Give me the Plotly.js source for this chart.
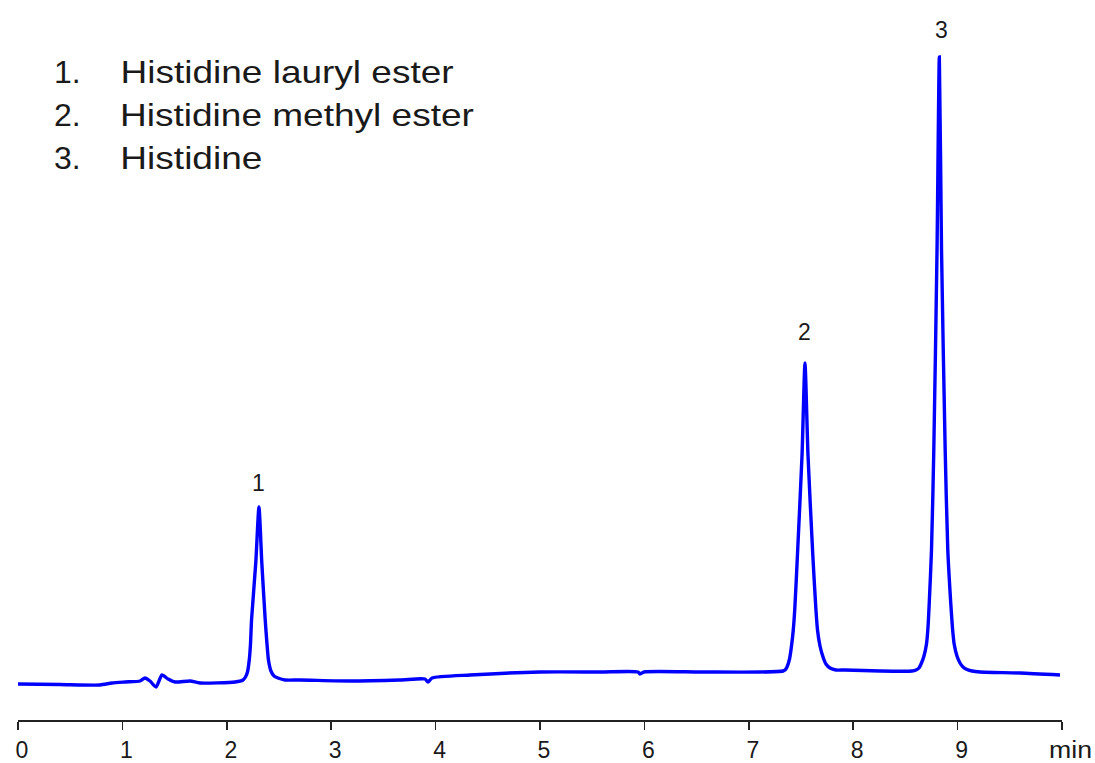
<!DOCTYPE html>
<html>
<head>
<meta charset="utf-8">
<script src="https://cdn.plot.ly/plotly-3.0.1.min.js"></script>
<style>html,body{margin:0;padding:0;background:#fff;}#chart{width:1095px;height:763px;}</style>
</head>
<body>
<div id="chart"></div>
<script>
// Retention time (min) and detector signal
const timeMin = [0.000,0.402,0.785,0.900,1.025,1.169,1.216,1.264,1.322,1.379,1.437,1.504,1.648,1.743,2.079,2.155,
  2.179,2.198,2.215,2.227,2.237,2.278,2.308,2.335,2.368,2.385,2.399,2.423,2.452,2.490,2.557,
  2.701,3.180,3.659,3.898,3.927,3.966,4.330,5.000,5.575,5.939,5.958,5.996,6.533,7.107,7.328,
  7.347,7.366,7.390,7.409,7.426,7.441,7.466,7.510,7.538,7.567,7.613,7.642,7.658,7.682,7.711,7.739,7.778,7.835,
  7.921,8.257,8.563,
  8.602,8.630,8.654,8.678,8.702,8.716,8.728,8.750,8.772,8.803,8.825,8.846,8.881,8.906,8.935,8.951,8.967,8.994,9.023,9.052,9.080,9.138,
  9.215,9.598,9.981];
const signal = [36,35.5,35,37,38,39,42,39,33,45,41,38,39,37,38,40,
  43,48,60,76,100,158,213,158,100,76,60,49,44,42,40,
  40,39,40,41,38,42,45,48,48,48,46,48,48,48,49,
  50,53,61,74,90,112,165,265,357,265,165,112,90,74,63,56,52,50,
  50,49,49,
  50,52,57,64,76,92,116,170,270,470,663,470,270,170,116,92,76,64,57,53,51,49,
  48,47,45];

const tickValues = [0,1,2,3,4,5,6,7,8,9,10];
const tickLabels = ["0","1","2","3","4","5","6","7","8","9",""];

const peakNumbers = ["1","2","3"];
const peakTimes = [2.308,7.530,8.850];
const peakLabelY = [237,388,690];

const compoundNumbers = ["1.","2.","3."];
const compoundNames = ["Histidine lauryl ester","Histidine methyl ester","Histidine"];
const compoundY = [648,605,562];

const font = "Liberation Sans, Arial, sans-serif";
const textColor = "#1a1a1a";
const nameWidths = [333,354,142];   // rendered width of each name in px
const nameLeft = 120;               // left edge of names in px
const plotL = 18, plotW = 1044;

const annotations = [];
const stretch = []; // [annotation index, target width]
peakNumbers.forEach((p,i)=>{
  annotations.push({x:peakTimes[i], y:peakLabelY[i], xref:"x", yref:"y", text:p, showarrow:false,
    xanchor:"center", yanchor:"middle", font:{family:font, size:23, color:textColor}});
});
compoundNumbers.forEach((n,i)=>{
  annotations.push({x:(52-plotL)/plotW, y:compoundY[i], xref:"paper", yref:"y", text:n, showarrow:false,
    xanchor:"left", yanchor:"middle", font:{family:font, size:32, color:textColor}});
  stretch.push([annotations.length, nameWidths[i]]);
  annotations.push({x:(nameLeft + nameWidths[i]/2 - plotL)/plotW, y:compoundY[i], xref:"paper", yref:"y",
    text:compoundNames[i], showarrow:false,
    xanchor:"center", yanchor:"middle", font:{family:font, size:32, color:textColor}});
});
stretch.push([annotations.length, 43]);
annotations.push({x:1, y:0, xref:"paper", yref:"paper", text:"min", showarrow:false,
  xanchor:"center", yanchor:"top", xshift:8, yshift:-15, font:{family:font, size:23, color:textColor}});

const trace = {x:timeMin, y:signal, type:"scatter", mode:"lines",
  line:{color:"#0000ff", width:3.4, shape:"spline", smoothing:0.6}, hoverinfo:"skip"};

const layout = {
  width:1095, height:763,
  margin:{l:18, r:33, t:20, b:43, pad:0},
  paper_bgcolor:"#ffffff", plot_bgcolor:"#ffffff",
  showlegend:false,
  xaxis:{range:[0,10], showgrid:false, zeroline:false, showline:true, linecolor:"#222", linewidth:1.5,
    ticks:"outside", ticklen:8, tickwidth:1.5, tickcolor:"#222",
    tickvals:tickValues, ticktext:tickLabels, ticklabelstandoff:1, ticklabelshift:4,
    tickfont:{family:font, size:23, color:textColor}, fixedrange:true},
  yaxis:{range:[0,700], visible:false, fixedrange:true},
  annotations:annotations
};

Plotly.newPlot("chart", [trace], layout, {staticPlot:true, displayModeBar:false}).then(gd=>{
  const groups = gd.querySelectorAll(".annotation");
  stretch.forEach(([idx,w])=>{
    const g = groups[idx];
    if(!g) return;
    const t = g.querySelector("text.annotation-text");
    if(t){ t.setAttribute("textLength", w); t.setAttribute("lengthAdjust","spacingAndGlyphs"); }
  });
});
</script>
</body>
</html>
